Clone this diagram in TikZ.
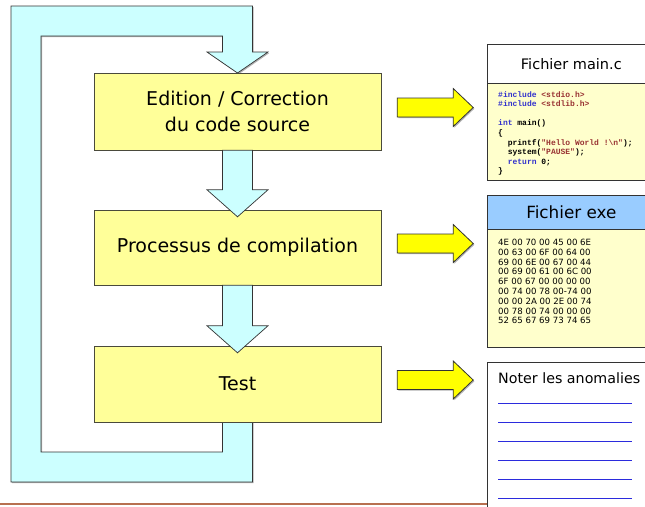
\documentclass[tikz,border=0pt]{standalone}
\usepackage{fontspec}
\setmainfont{DejaVu Sans}
\newfontfamily\codefont{Liberation Mono}
\usetikzlibrary{calc,shadows}

\definecolor{boxfill}{HTML}{FFFF99}
\definecolor{boxline}{HTML}{4A4A3C}
\definecolor{loopfill}{HTML}{CCFFFF}
\definecolor{arrowfill}{HTML}{FFFF00}
\definecolor{codebg}{HTML}{FFFFCC}
\definecolor{exehead}{HTML}{99CCFF}
\definecolor{kwblue}{HTML}{3333CC}
\definecolor{strred}{HTML}{993333}
\definecolor{ruleblue}{HTML}{2B2BDD}
\definecolor{sepbrown}{HTML}{B87050}

\newcommand{\kw}[1]{\textcolor{kwblue}{#1}}
\newcommand{\strc}[1]{\textcolor{strred}{#1}}

\begin{document}
\begin{tikzpicture}[x=1pt,y=-1pt,
  softshadow/.style={drop shadow={shadow xshift=1.2pt,shadow yshift=-1.2pt,fill=black,opacity=0.3}},
  stepbox/.style={draw=boxline,fill=boxfill,softshadow,minimum width=287,inner sep=0,
    align=center,font=\fontsize{19}{26}\selectfont},
  loopband/.style={draw=black!80,fill=loopfill,softshadow,line width=0.7},
  flowarrow/.style={draw=black!80,fill=loopfill,line width=0.7},
  outarrow/.style={draw=black!80,fill=arrowfill,softshadow,line width=0.8},
  panel/.style={draw=black!80,line width=0.7,minimum width=168,inner sep=0,anchor=north west},
  ruleline/.style={ruleblue,line width=0.9}
]
\useasboundingbox (0,0) rectangle (645,506);
\clip (0,0) rectangle (645,506);

% coordinates of the three steps (used by the loop before the boxes are drawn)
\coordinate (editN) at (237.5,73);
\coordinate (testS) at (237.5,422);

% feedback loop from the test step back to editing
\draw[loopband] ($(testS)+(15,0)$) |- (11,482) |- ($(editN)+(15,-67)$)
  -- ($(editN)+(15,-21)$) -- ($(editN)+(30.5,-21)$) -- (editN)
  -- ($(editN)+(-30.5,-21)$) -- ($(editN)+(-15,-21)$) |- (41,36)
  |- ($(testS)+(-15,30)$) -- ($(testS)+(-15,0)$) -- cycle;

% the three steps
\node[stepbox,minimum height=77] (edit) at (237.5,111.5) {Edition / Correction\\du code source};
\node[stepbox,minimum height=75] (compile) at (237.5,247.5) {Processus de compilation};
\node[stepbox,minimum height=76] (test) at (237.5,384) {Test};

% downward arrows between steps
\foreach \a/\b in {edit/compile,compile/test}{
  \draw[flowarrow] ($(\a.south)+(-15,0)$) -- ($(\a.south)+(15,0)$)
    -- ($(\b.north)+(15,-20)$) -- ($(\b.north)+(30.5,-20)$) -- ($(\b.north)+(0,7)$)
    -- ($(\b.north)+(-30.5,-20)$) -- ($(\b.north)+(-15,-20)$) -- cycle;
}

% source file panel
\node[panel,fill=white,minimum height=39,font=\fontsize{14.5}{16}\selectfont] (srchead) at (487,44) {Fichier main.c};
\node[panel,fill=codebg,minimum height=97] (srcbody) at (487,83) {};
\node[anchor=base west,inner sep=0] (code) at (498,97) {\vtop{\codefont\bfseries\fontsize{8}{9.6}\selectfont
  \hbox{\kw{\#include} \strc{<stdio.h>}}
  \hbox{\kw{\#include} \strc{<stdlib.h>}}
  \hbox{}
  \hbox{\kw{int} main()}
  \hbox{\{}
  \hbox{\hspace*{9.6pt}printf(\strc{"Hello World !\textbackslash n"});}
  \hbox{\hspace*{9.6pt}system(\strc{"PAUSE"});}
  \hbox{\hspace*{9.6pt}\kw{return} 0;}
  \hbox{\}}}};

% executable panel
\node[panel,fill=exehead,minimum height=34,font=\fontsize{16.8}{18}\selectfont] (exehead) at (487,195) {Fichier exe};
\node[panel,fill=codebg,minimum height=118] (exebody) at (487,229) {};
\node[anchor=base west,inner sep=0] (hex) at (498,245.5) {\vtop{\fontsize{8.6}{9.8}\selectfont
  \hbox{4E 00 70 00 45 00 6E}
  \hbox{00 63 00 6F 00 64 00}
  \hbox{69 00 6E 00 67 00 44}
  \hbox{00 69 00 61 00 6C 00}
  \hbox{6F 00 67 00 00 00 00}
  \hbox{00 74 00 78 00-74 00}
  \hbox{00 00 2A 00 2E 00 74}
  \hbox{00 78 00 74 00 00 00}
  \hbox{52 65 67 69 73 74 65}}};

% notes panel
\node[panel,fill=white,minimum height=160] (notes) at (487,362) {};
\node[anchor=base west,inner sep=0,font=\fontsize{14.25}{16}\selectfont] (notetitle) at (498,383) {Noter les anomalies};
\foreach \y in {403,422,441,460,479,498}{
  \draw[ruleline] (498,\y) -- (632,\y);
}

% arrows from each step to what it produces
\foreach \s/\p in {edit/srcbody,compile/exebody,test/notes}{
  \draw[outarrow] ($(\s.east)+(16,-13.5)$) -- ($(\s.east)+(72,-13.5)$) -- ($(\s.east)+(72,-23)$)
    -- ($(\s.east)+(92,-4)$) -- ($(\s.east)+(72,15)$) -- ($(\s.east)+(72,5.5)$)
    -- ($(\s.east)+(16,5.5)$) -- cycle;
}

% page separator
\draw[sepbrown,line width=1.2] (0,504) -- (notes.west |- 0,504);
\end{tikzpicture}
\end{document}
